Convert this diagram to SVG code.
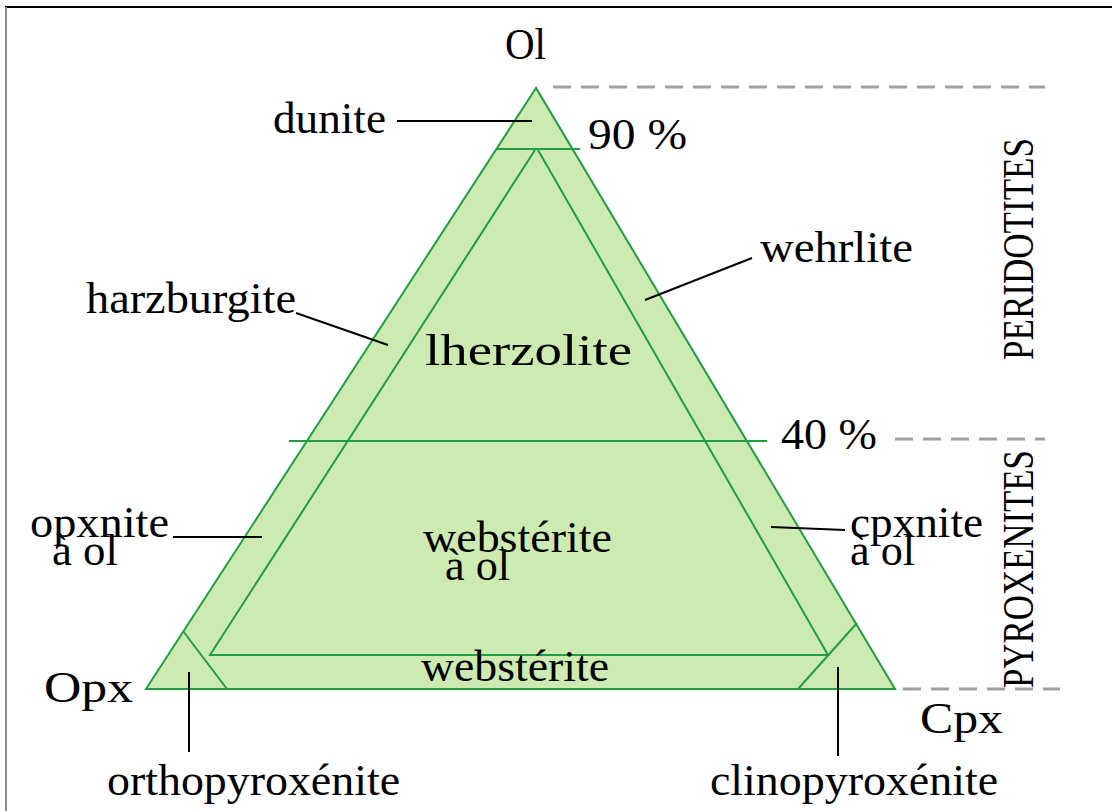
<svg xmlns="http://www.w3.org/2000/svg" width="1112" height="811" viewBox="0 0 1112 811">
<style>
text{font-family:"Liberation Serif","Times New Roman",serif;fill:#000;font-size:44px}
.g{fill:none;stroke:#1f9e45;stroke-width:2}
.lead{stroke:#000;stroke-width:2;fill:none}
.dash{stroke:#a0a0a0;stroke-width:3;stroke-dasharray:18,10;fill:none}
</style>
<rect width="1112" height="811" fill="#fff"/>
<line x1="5" y1="7" x2="1112" y2="7" stroke="#000" stroke-width="2"/>
<line x1="6" y1="7" x2="6" y2="811" stroke="#888" stroke-width="2"/>
<g id="triangle">
<polygon points="536,88 146,689 895,689" fill="#cdeab0" stroke="#1f9e45" stroke-width="2"/>
<polyline class="g" points="535,150 210,655 828,655 538,150"/>
<line class="g" x1="497" y1="149" x2="580" y2="149"/>
<line class="g" x1="289" y1="441" x2="767" y2="441"/>
<line class="g" x1="183" y1="631" x2="227" y2="689"/>
<line class="g" x1="857" y1="623" x2="798" y2="689"/>
</g>
<g id="dashes">
<line class="dash" x1="553" y1="87" x2="1045" y2="87"/>
<line class="dash" x1="895" y1="439" x2="1045" y2="439"/>
<line class="dash" x1="903" y1="689" x2="1060" y2="689"/>
</g>
<g id="connectors">
<line class="lead" x1="397" y1="121" x2="532" y2="121"/>
<line class="lead" x1="752" y1="258" x2="645" y2="300"/>
<line class="lead" x1="296" y1="313" x2="388" y2="345"/>
<line class="lead" x1="173" y1="537" x2="262" y2="537"/>
<line class="lead" x1="771" y1="527" x2="845" y2="530"/>
<line class="lead" x1="189" y1="672" x2="189" y2="752"/>
<line class="lead" x1="838" y1="667" x2="838" y2="756"/>
</g>
<g id="labels">
<text x="505" y="59" font-size="44" textLength="41" lengthAdjust="spacingAndGlyphs">Ol</text>
<text x="273" y="133" textLength="113" lengthAdjust="spacingAndGlyphs">dunite</text>
<text x="588" y="149" textLength="99" lengthAdjust="spacingAndGlyphs">90 %</text>
<text x="760" y="262" textLength="153" lengthAdjust="spacingAndGlyphs">wehrlite</text>
<text x="86" y="313" textLength="210" lengthAdjust="spacingAndGlyphs">harzburgite</text>
<text x="425" y="365" textLength="207" lengthAdjust="spacingAndGlyphs">lherzolite</text>
<text x="781" y="449" textLength="96" lengthAdjust="spacingAndGlyphs">40 %</text>
<text x="30" y="537" font-size="40" textLength="139" lengthAdjust="spacingAndGlyphs">opxnite</text>
<text x="52" y="565" font-size="40" textLength="66" lengthAdjust="spacingAndGlyphs">à ol</text>
<text x="423" y="552" font-size="40" textLength="189" lengthAdjust="spacingAndGlyphs">webstérite</text>
<text x="445" y="580" font-size="40" textLength="65" lengthAdjust="spacingAndGlyphs">à ol</text>
<text x="850" y="537" font-size="40" textLength="133" lengthAdjust="spacingAndGlyphs">cpxnite</text>
<text x="850" y="565" font-size="40" textLength="65" lengthAdjust="spacingAndGlyphs">à ol</text>
<text x="421" y="681" textLength="188" lengthAdjust="spacingAndGlyphs">webstérite</text>
<text x="44" y="702" textLength="89" lengthAdjust="spacingAndGlyphs">Opx</text>
<text x="920" y="733" textLength="83" lengthAdjust="spacingAndGlyphs">Cpx</text>
<text x="107" y="795" font-size="46" textLength="293" lengthAdjust="spacingAndGlyphs">orthopyroxénite</text>
<text x="710" y="795" font-size="46" textLength="288" lengthAdjust="spacingAndGlyphs">clinopyroxénite</text>
<text transform="translate(1033,360) rotate(-90)" font-size="38" textLength="222" lengthAdjust="spacingAndGlyphs">PERIDOTITES</text>
<text transform="translate(1033,688) rotate(-90)" font-size="38" textLength="238" lengthAdjust="spacingAndGlyphs">PYROXENITES</text>
</g>
</svg>
